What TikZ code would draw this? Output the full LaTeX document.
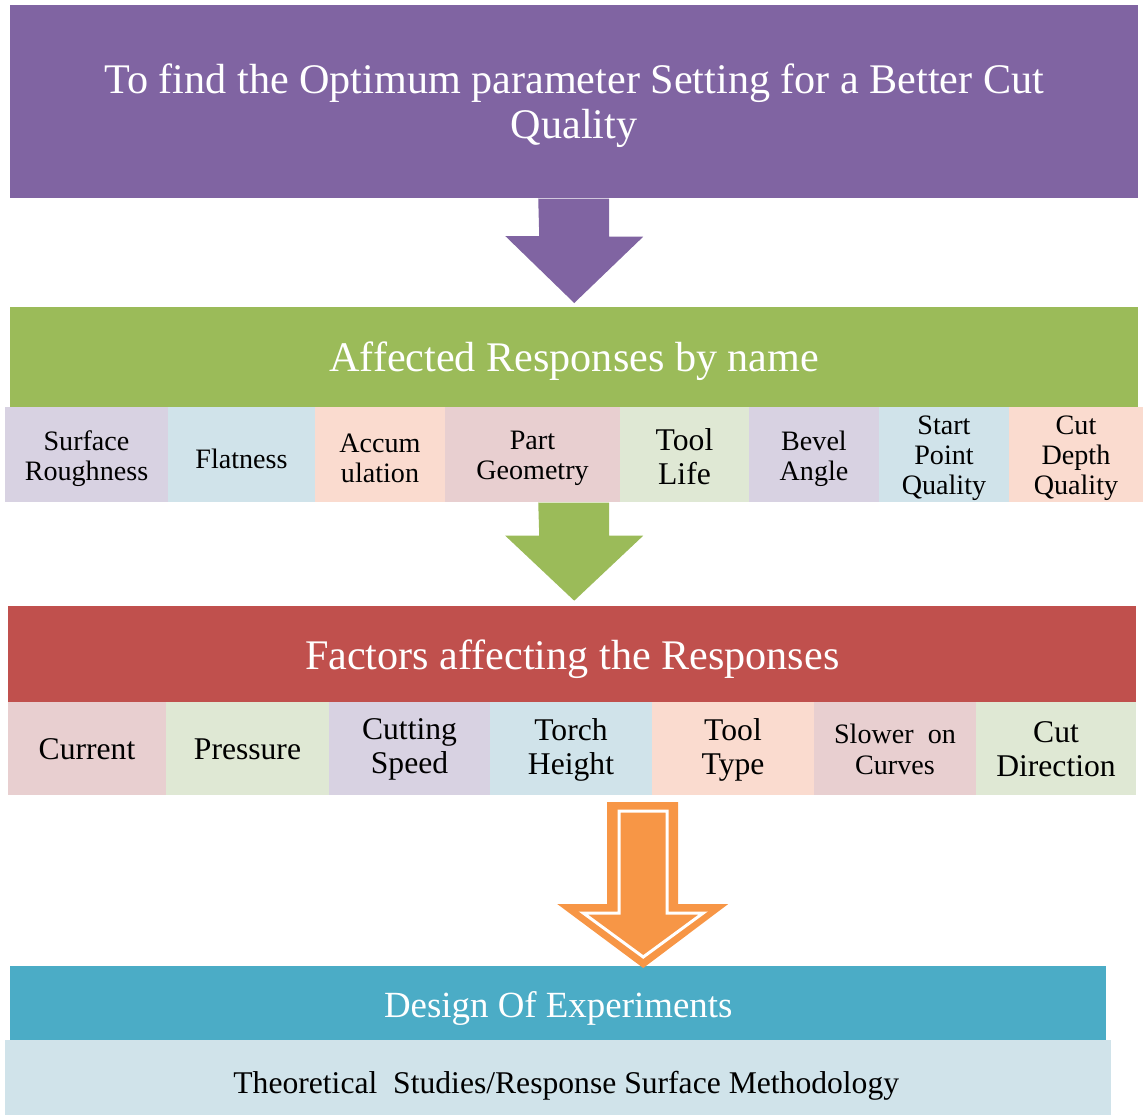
\documentclass[tikz,border=0pt]{standalone}
\usepackage{fontspec}
\setmainfont{Liberation Serif}
\usetikzlibrary{calc}

\definecolor{goalcol}{HTML}{8064A2}
\definecolor{respcol}{HTML}{9BBB59}
\definecolor{factcol}{HTML}{C0504D}
\definecolor{doecol}{HTML}{4BACC6}
\definecolor{arrcol}{HTML}{F79646}
\definecolor{lav}{HTML}{D8D2E2}
\definecolor{lblue}{HTML}{D0E3EA}
\definecolor{peach}{HTML}{FADBCF}
\definecolor{pink}{HTML}{E8CFD0}
\definecolor{lgreen}{HTML}{DFE8D4}

\begin{document}
\begin{tikzpicture}[x=0.02cm, y=-0.02cm,
  barnode/.style={rectangle, anchor=north west, inner sep=0pt, minimum width=22.56cm},
  bartext/.style={inner sep=0pt, text=white, align=center, font=\fontsize{24}{26}\selectfont},
  cellnode/.style={rectangle, inner sep=0pt},
  celltext/.style={inner sep=0pt, align=center, font=\fontsize{16}{17}\selectfont},
  facttext/.style={celltext, font=\fontsize{18}{19.3}\selectfont},
  norm/.style={},
  big/.style={font=\fontsize{18}{19.5}\selectfont, yshift=0.04cm},
  small/.style={font=\fontsize{16}{18}\selectfont},
  ]

\useasboundingbox (0,0) rectangle (1144,1120);

\node[barnode, fill=goalcol, minimum height=3.86cm] (goal) at (10,5) {};
\node[barnode, fill=respcol, minimum height=2cm] (resp) at (10,307) {};
\node[barnode, fill=factcol, minimum height=1.92cm] (fact) at (8,606) {};
\node[barnode, fill=doecol, minimum height=1.48cm, minimum width=21.92cm] (doe) at (10,966) {};
\node[barnode, fill=lblue, minimum height=1.5cm, minimum width=22.12cm] (rsm) at (5,1040) {};

\node[bartext] (goaltxt) at ($(goal)+(0,4)$) {To find the Optimum parameter Setting for a Better Cut\\Quality};
\node[bartext] (resptxt) at ($(resp)+(0,4)$) {Affected Responses by name};
\node[bartext] (facttxt) at ($(fact)+(0,5)$) {Factors affecting the Responses};
\node[bartext, font=\fontsize{21}{23}\selectfont] (doetxt) at ($(doe)+(0,5)$) {Design Of Experiments};
\node[bartext, text=black, font=\fontsize{18}{20}\selectfont] (rsmtxt) at ($(rsm)+(8,8)$) {Theoretical\ \ Studies/Response Surface Methodology};

\foreach \xa/\xb/\col/\st/\txt [count=\i] in {
    5/168/lav/norm/{Surface\\Roughness},
    168/315/lblue/norm/{Flatness},
    315/445/peach/norm/{Accum\\ulation},
    445/620/pink/norm/{Part\\Geometry},
    620/749/lgreen/big/{Tool\\Life},
    749/879/lav/norm/{Bevel\\Angle},
    879/1009/lblue/norm/{Start\\Point\\Quality},
    1009/1143/peach/norm/{Cut\\Depth\\Quality}}
{
  \node[cellnode, fill=\col, minimum width={(\xb-\xa)*0.02cm}, minimum height=1.9cm] (r\i) at ({(\xa+\xb)/2},454.5) {};
  \node[celltext, \st] at ($(r\i)+(0,4)$) {\txt};
}

\foreach \xa/\xb/\col/\st/\txt [count=\i] in {
    8/166/pink/norm/{Current},
    166/329/lgreen/norm/{Pressure},
    329/490/lav/norm/{Cutting\\Speed},
    490/652/lblue/norm/{Torch\\Height},
    652/814/peach/norm/{Tool\\Type},
    814/976/pink/small/{Slower\ \ on\\Curves},
    976/1136/lgreen/norm/{Cut\\Direction}}
{
  \node[cellnode, fill=\col, minimum width={(\xb-\xa)*0.02cm}, minimum height=1.86cm] (f\i) at ({(\xa+\xb)/2},748.5) {};
  \node[facttext, \st] at ($(f\i)+(0,1)$) {\txt};
}

\fill[goalcol] ($(goal.south)+(-36,0)$) -- ++(71,0) -- ++(0,38) -- ++(34,0)
  -- ($(resp.north)+(0,-4)$) -- ++(-69,-67) -- ++(34,0) -- cycle;

\fill[respcol] ($(resp.south)+(-36,95)$) -- ++(71,0) -- ++(0,33) -- ++(34,0)
  -- ($(resp.south)+(0,193)$) -- ++(-69,-65) -- ++(34,0) -- cycle;

\fill[arrcol] ($(doe.north)+(85,2)$) -- ++(-86,-64) -- ++(50,0) -- ++(0,-102)
  -- ++(71,0) -- ++(0,102) -- ++(50,0) -- cycle;
\filldraw[arrcol, draw=white, line width=0.06cm] ($(doe.north)+(85,-9)$) -- ++(-60,-44) -- ++(36,0) -- ++(0,-102)
  -- ++(48,0) -- ++(0,102) -- ++(36,0) -- cycle;

\end{tikzpicture}
\end{document}
